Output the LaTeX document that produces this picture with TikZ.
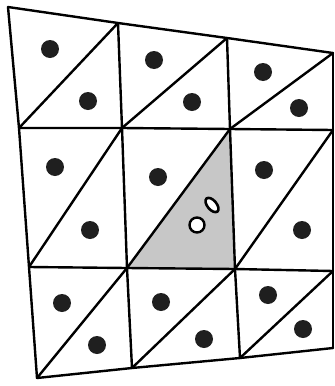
\documentclass[tikz,border=0pt]{standalone}
\usepackage{xcolor}
\usepackage{tikz}

\tikzset{
    dot/.style={circle, fill=black!88, inner sep=0pt, minimum size=18pt},
    hole/.style={circle, draw=black, line width=2.4pt, fill=white, inner sep=0pt, minimum size=15pt},
    edgeline/.style={line width=2.4pt, line join=round, line cap=round}
}

\begin{document}
\begin{tikzpicture}[x=1pt, y=-1pt]
        \useasboundingbox (0,0) rectangle (335,386);
%   grid points
        \coordinate (p00) at (8,7);
        \coordinate (p01) at (118,23);
        \coordinate (p02) at (227,38);
        \coordinate (p03) at (333,53);
        \coordinate (p10) at (19,128);
        \coordinate (p11) at (122,128);
        \coordinate (p12) at (230,129);
        \coordinate (p13) at (333,130);
        \coordinate (p20) at (29,267);
        \coordinate (p21) at (127,268);
        \coordinate (p22) at (235,269);
        \coordinate (p23) at (333,271);
        \coordinate (p30) at (37,378);
        \coordinate (p31) at (132,368);
        \coordinate (p32) at (240,358);
        \coordinate (p33) at (333,348);
%   shaded element
        \fill[black!22] (p21) -- (p12) -- (p22) -- cycle;
%   mesh
        \foreach \r in {0,1,2,3} {
            \draw[edgeline] (p\r0) -- (p\r1) -- (p\r2) -- (p\r3);
            \draw[edgeline] (p0\r) -- (p1\r) -- (p2\r) -- (p3\r);
        }
        \draw[edgeline] (p10) -- (p01) (p11) -- (p02) (p12) -- (p03);
        \draw[edgeline] (p20) -- (p11) (p21) -- (p12) (p22) -- (p13);
        \draw[edgeline] (p30) -- (p21) (p31) -- (p22) (p32) -- (p23);
%   points
        \node[dot] (a1) at (50,49) {};
        \node[dot] (a2) at (88,101) {};
        \node[dot] (b1) at (154,60) {};
        \node[dot] (b2) at (192,102) {};
        \node[dot] (c1) at (263,72) {};
        \node[dot] (c2) at (299,108) {};
        \node[dot] (d1) at (55,167) {};
        \node[dot] (d2) at (90,230) {};
        \node[dot] (e1) at (158,177) {};
        \node[dot] (f1) at (264,170) {};
        \node[dot] (f2) at (302,230) {};
        \node[dot] (g1) at (62,303) {};
        \node[dot] (g2) at (97,345) {};
        \node[dot] (h1) at (161,302) {};
        \node[dot] (h2) at (204,339) {};
        \node[dot] (i1) at (268,295) {};
        \node[dot] (i2) at (303,329) {};
%   query point and its image
        \node[hole] (q) at (197,225) {};
        \draw[line width=2.6pt, fill=white, rotate around={-50:(212,205)}] (212,205) ellipse (8.5pt and 4.6pt);
\end{tikzpicture}
\end{document}
